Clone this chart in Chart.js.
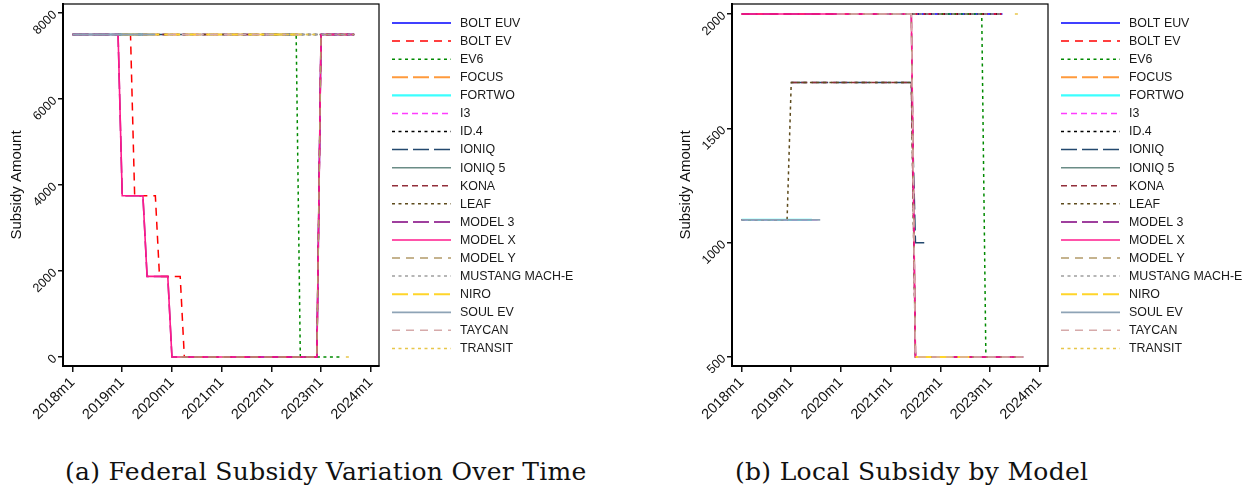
<!DOCTYPE html>
<html>
<head>
<meta charset="utf-8">
<script src="https://cdn.jsdelivr.net/npm/chart.js@4.4.1/dist/chart.umd.min.js"></script>
<style>
  body { margin: 0; background: #fff; width: 1258px; height: 498px; position: relative; overflow: hidden; }
  .panel { position: absolute; top: 0; width: 589px; height: 430px; }
  .cap { position: absolute; top: 457px; font-family: "DejaVu Serif", serif; font-size: 25px; letter-spacing: 0.3px; color: #111; white-space: nowrap; }
</style>
</head>
<body>
<div class="panel" style="left:0"><canvas id="fed" width="589" height="430"></canvas></div>
<div class="panel" style="left:669px"><canvas id="loc" width="589" height="430"></canvas></div>
<div class="cap" style="left:65px">(a) Federal Subsidy Variation Over Time</div>
<div class="cap" style="left:735px">(b) Local Subsidy by Model</div>

<script>
// x = months since 2018m1
const X_TICKS = [0, 12, 24, 36, 48, 60, 72];
const X_TICK_LABELS = ['2018m1', '2019m1', '2020m1', '2021m1', '2022m1', '2023m1', '2024m1'];
const FED_Y_TICKS = [0, 2000, 4000, 6000, 8000];
const LOC_Y_TICKS = [500, 1000, 1500, 2000];

const MODELS = ['BOLT EUV', 'BOLT EV', 'EV6', 'FOCUS', 'FORTWO', 'I3', 'ID.4', 'IONIQ', 'IONIQ 5', 'KONA',
  'LEAF', 'MODEL 3', 'MODEL X', 'MODEL Y', 'MUSTANG MACH-E', 'NIRO', 'SOUL EV', 'TAYCAN', 'TRANSIT'];

// federal subsidy, [month, amount]; null = break in the line
const FED_BOLT_EUV = [[42, 0], [59, 0], [60, 7500], [68, 7500]];
const FED_BOLT_EV = [[0, 7500], [14, 7500], [15, 3750], [20, 3750], [21, 1875], [26, 1875], [27, 0], [59, 0], [60, 7500], [68, 7500]];
const FED_EV6 = [[48, 7500], [54, 7500], [55, 0], [65, 0]];
const FED_FOCUS = [[0, 7500], [18, 7500]];
const FED_FORTWO = [[0, 7500], [17, 7500]];
const FED_I3 = [[0, 7500], [47, 7500]];
const FED_ID4 = [[38, 7500], [68, 7500]];
const FED_IONIQ = [[0, 7500], [53, 7500]];
const FED_IONIQ5 = [[47, 7500], [55, 7500]];
const FED_KONA = [[12, 7500], [55, 7500]];
const FED_LEAF = [[0, 7500], [68, 7500]];
const FED_MODEL3 = [[0, 7500], [11, 7500], [12, 3750], [17, 3750], [18, 1875], [23, 1875], [24, 0], [59, 0], [60, 7500], [68, 7500]];
const FED_MODELX = [[0, 7500], [11, 7500], [12, 3750], [17, 3750], [18, 1875], [23, 1875], [24, 0], [59, 0], [60, 7500], [68, 7500]];
const FED_MODELY = [[26, 0], [59, 0], [60, 7500], [68, 7500]];
const FED_MACHE = [[35, 7500], [68, 7500]];
const FED_NIRO = [[12, 7500], [55, 7500]];
const FED_SOUL = [[0, 7500], [20, 7500]];
const FED_TAYCAN = [[23, 7500], [55, 7500]];
const FED_TRANSIT = [[50, 7500], [59, 7500], null, [66, 0], [67, 0]];

// local subsidy, [month, amount]
const LOC_BOLT_EUV = [[42, 2000], [63, 2000]];
const LOC_BOLT_EV = [[0, 2000], [63, 2000]];
const LOC_EV6 = [[48, 2000], [58, 2000], [59, 500], [65, 500]];
const LOC_FOCUS = [[0, 1100], [11, 1100]];
const LOC_FORTWO = [[0, 1100], [17, 1100]];
const LOC_I3 = [[0, 1100], [19, 1100]];
const LOC_ID4 = [[38, 2000], [63, 2000]];
const LOC_IONIQ = [[12, 1700], [41, 1700], [42, 1000], [45, 1000]];
const LOC_IONIQ5 = [[47, 500], [68, 500]];
const LOC_KONA = [[12, 1700], [41, 1700], [42, 500], [55, 500]];
const LOC_LEAF = [[0, 1100], [11, 1100], [12, 1700], [41, 1700], [42, 500], [68, 500]];
const LOC_MODEL3 = [[0, 2000], [41, 2000], [42, 500], [68, 500]];
const LOC_MODELX = [[0, 2000], [41, 2000], [42, 500], [68, 500]];
const LOC_MODELY = [[26, 2000], [41, 2000], [42, 500], [68, 500]];
const LOC_MACHE = [[35, 2000], [63, 2000]];
const LOC_NIRO = [[42, 500], [55, 500]];
const LOC_SOUL = [[0, 1100], [19, 1100]];
const LOC_TAYCAN = [[23, 2000], [41, 2000], [42, 500], [68, 500]];
const LOC_TRANSIT = [[66, 2000], [67, 2000]];

const FED_SERIES = [FED_BOLT_EUV, FED_BOLT_EV, FED_EV6, FED_FOCUS, FED_FORTWO, FED_I3, FED_ID4, FED_IONIQ, FED_IONIQ5,
  FED_KONA, FED_LEAF, FED_MODEL3, FED_MODELX, FED_MODELY, FED_MACHE, FED_NIRO, FED_SOUL, FED_TAYCAN, FED_TRANSIT];
const LOC_SERIES = [LOC_BOLT_EUV, LOC_BOLT_EV, LOC_EV6, LOC_FOCUS, LOC_FORTWO, LOC_I3, LOC_ID4, LOC_IONIQ, LOC_IONIQ5,
  LOC_KONA, LOC_LEAF, LOC_MODEL3, LOC_MODELX, LOC_MODELY, LOC_MACHE, LOC_NIRO, LOC_SOUL, LOC_TAYCAN, LOC_TRANSIT];

// line styles (stata-ish)
const COLORS = ['#0000ff', '#ff0000', '#008a00', '#ff9a3c', '#3cffff', '#ff3cff', '#000000', '#23486e', '#6a8c86', '#922e3a',
  '#5e4b1c', '#80007f', '#ff1a8c', '#b39b69', '#9e9e9e', '#ffd52a', '#8ea3b6', '#d6aaaa', '#e8c64a'];
const DASH = {
  solid: [], dash: [8, 6], sdash: [6, 4], dot: [3, 3.5], long: [16, 5]
};
const PATTERNS = ['solid', 'dash', 'dot', 'long', 'solid', 'sdash', 'dot', 'long', 'solid', 'sdash',
  'dot', 'long', 'solid', 'dash', 'dot', 'long', 'solid', 'dash', 'dot'];
const WIDTHS = [1.5, 1.5, 1.5, 1.8, 2.2, 1.5, 1.5, 1.5, 1.5, 1.5, 1.5, 1.5, 1.6, 1.5, 1.5, 2, 1.8, 1.5, 1.5];

const FONT = '"Liberation Sans", Arial, Helvetica, sans-serif';

function toPoints(series) {
  let lastX = 0;
  return series.map(p => {
    if (p === null) return { x: lastX + 0.5, y: null };
    lastX = p[0];
    return { x: p[0], y: p[1] };
  });
}

function buildDatasets(seriesList) {
  return seriesList.map((s, i) => ({
    label: MODELS[i],
    data: toPoints(s),
    borderColor: COLORS[i],
    borderDash: DASH[PATTERNS[i]],
    borderWidth: WIDTHS[i],
    pointRadius: 0,
    tension: 0,
    fill: false,
    spanGaps: false,
    // later series drawn on top, like stata
    order: seriesList.length - i
  }));
}

// legend on the right of the plot region
const sideLegend = {
  id: 'sideLegend',
  afterDraw(chart) {
    const ctx = chart.ctx;
    const a = chart.chartArea;
    chart.data.datasets.forEach((ds, i) => {
      const y = 23 + i * 18.08;
      ctx.save();
      ctx.strokeStyle = ds.borderColor;
      ctx.lineWidth = ds.borderWidth;
      ctx.setLineDash(ds.borderDash);
      ctx.beginPath();
      ctx.moveTo(a.right + 13, y);
      ctx.lineTo(a.right + 72, y);
      ctx.stroke();
      ctx.setLineDash([]);
      ctx.fillStyle = '#1a1a1a';
      ctx.font = '12.4px ' + FONT;
      ctx.textBaseline = 'middle';
      ctx.fillText(ds.label, a.right + 81, y + 0.5);
      ctx.restore();
    });
  }
};

// box around plot region
const frame = {
  id: 'frame',
  afterDatasetsDraw(chart) {
    const { ctx, chartArea: a } = chart;
    ctx.save();
    ctx.strokeStyle = '#000';
    ctx.lineWidth = 1.2;
    ctx.strokeRect(a.left, a.top, a.right - a.left, a.bottom - a.top);
    ctx.restore();
  }
};

function makeChart(id, seriesList, yMin, yMax, yTicks) {
  new Chart(document.getElementById(id), {
    type: 'line',
    data: { datasets: buildDatasets(seriesList) },
    options: {
      responsive: false,
      animation: false,
      layout: { padding: { left: 0, top: 4, right: 210, bottom: 0 } },
      plugins: { legend: { display: false }, tooltip: { enabled: false } },
      scales: {
        x: {
          type: 'linear',
          min: -2.3,
          max: 74,
          afterBuildTicks: s => { s.ticks = X_TICKS.map(v => ({ value: v })); },
          afterFit: s => { s.height = 64; s.paddingLeft = 0; s.paddingRight = 0; },
          grid: { drawOnChartArea: false, tickLength: 6, color: '#111', lineWidth: 1.5 },
          border: { display: true, color: '#000', width: 2 },
          ticks: {
            autoSkip: false, minRotation: 45, maxRotation: 45, padding: 2,
            color: '#111', font: { family: FONT, size: 14.5 },
            callback: v => X_TICK_LABELS[X_TICKS.indexOf(v)]
          }
        },
        y: {
          min: yMin,
          max: yMax,
          afterBuildTicks: s => { s.ticks = yTicks.map(v => ({ value: v })); },
          afterFit: s => { s.width = 63; s.paddingTop = 0; s.paddingBottom = 0; },
          grid: { drawOnChartArea: false, tickLength: 5, color: '#111', lineWidth: 1.5 },
          border: { display: true, color: '#000', width: 2 },
          title: {
            display: true, text: 'Subsidy Amount', color: '#111',
            font: { family: FONT, size: 15 }, padding: { top: 8, bottom: 0 }
          },
          ticks: {
            minRotation: 45, maxRotation: 45, padding: 3,
            color: '#111', font: { family: FONT, size: 12.5 },
            callback: v => String(v)
          }
        }
      }
    },
    plugins: [frame, sideLegend]
  });
}

makeChart('fed', FED_SERIES, -209, 8209, FED_Y_TICKS);
makeChart('loc', LOC_SERIES, 460.6, 2043.7, LOC_Y_TICKS);
</script>
</body>
</html>
